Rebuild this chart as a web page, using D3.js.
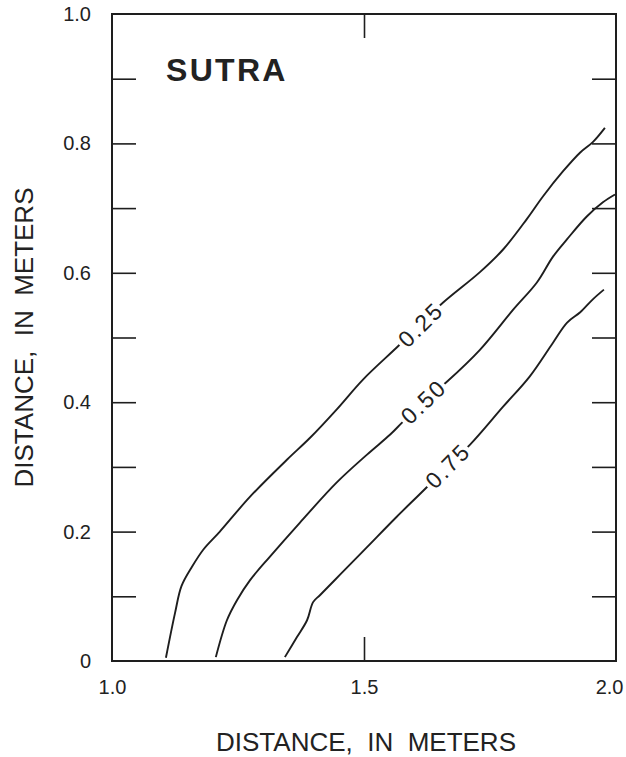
<!DOCTYPE html>
<html>
<head>
<meta charset="utf-8">
<script src="https://cdn.jsdelivr.net/npm/d3@7"></script>
<style>
  html, body { margin: 0; padding: 0; background: #fff; }
  svg { display: block; }
  text { font-family: "Liberation Sans", Arial, Helvetica, sans-serif; fill: #222; }
</style>
</head>
<body>
<svg id="chart" width="626" height="757"></svg>
<script>
// ---- data ----
const xDomain = [1.0, 2.0];
const yDomain = [0, 1.0];
const xTickLabels = [1.0, 1.5, 2.0];
const xTickMarks = [1.5];
const yTickLabels = [0, 0.2, 0.4, 0.6, 0.8, 1.0];
const yTickMarks = [0.1, 0.2, 0.3, 0.4, 0.5, 0.6, 0.7, 0.8, 0.9];

const contour025 = [
  [1.107, 0.005], [1.125, 0.074], [1.138, 0.116], [1.159, 0.146], [1.181, 0.172],
  [1.214, 0.200], [1.274, 0.254], [1.347, 0.311], [1.393, 0.345], [1.446, 0.389],
  [1.498, 0.435], [1.567, 0.486], [1.612, 0.520], [1.657, 0.554], [1.730, 0.601],
  [1.776, 0.636], [1.823, 0.683], [1.855, 0.718], [1.895, 0.757], [1.929, 0.786],
  [1.954, 0.802], [1.978, 0.824]
];
const contour050 = [
  [1.206, 0.006], [1.228, 0.063], [1.248, 0.094], [1.274, 0.125], [1.313, 0.161],
  [1.373, 0.214], [1.446, 0.276], [1.506, 0.319], [1.552, 0.350], [1.575, 0.368],
  [1.618, 0.401], [1.665, 0.432], [1.730, 0.481], [1.796, 0.543], [1.843, 0.585],
  [1.875, 0.625], [1.903, 0.652], [1.942, 0.687], [1.974, 0.709], [1.998, 0.721]
];
const contour075 = [
  [1.343, 0.006], [1.367, 0.037], [1.387, 0.063], [1.399, 0.091], [1.413, 0.102],
  [1.452, 0.133], [1.506, 0.176], [1.565, 0.223], [1.625, 0.269], [1.666, 0.302],
  [1.710, 0.334], [1.776, 0.393], [1.829, 0.440], [1.875, 0.492], [1.903, 0.523],
  [1.929, 0.539], [1.954, 0.559], [1.976, 0.574]
];
const contourLevels = ["0.25", "0.50", "0.75"];
const contourLabelAt = [[1.612, 0.520], [1.618, 0.401], [1.666, 0.302]];
const modelName = "SUTRA";
const axisTitle = "DISTANCE,  IN  METERS";

// ---- layout ----
const margin = { left: 112, top: 14 };
const plotW = 616 - margin.left;
const plotH = 661 - margin.top;

const svg = d3.select("#chart");
const g = svg.append("g").attr("transform", `translate(${margin.left},${margin.top})`);

const x = d3.scaleLinear().domain(xDomain).range([0, plotW]);
const y = d3.scaleLinear().domain(yDomain).range([plotH, 0]);

const ink = "#1e1e1e";
const FONT = '"Liberation Sans", Arial, Helvetica, sans-serif';

// tick marks (inward)
const tickLen = 24;
function styleTicks(s) {
  s.select(".domain").remove();
  s.selectAll("line").attr("stroke", ink).attr("stroke-width", 1.6);
}
g.append("g").call(d3.axisLeft(y).tickValues(yTickMarks).tickSize(-tickLen).tickFormat("")).call(styleTicks);
g.append("g").attr("transform", `translate(${plotW},0)`)
  .call(d3.axisRight(y).tickValues(yTickMarks).tickSize(-tickLen).tickFormat("")).call(styleTicks);
g.append("g").attr("transform", `translate(0,${plotH})`)
  .call(d3.axisBottom(x).tickValues(xTickMarks).tickSize(-tickLen).tickFormat("")).call(styleTicks);
g.append("g")
  .call(d3.axisTop(x).tickValues(xTickMarks).tickSize(-tickLen).tickFormat("")).call(styleTicks);

// tick labels
const yLab = g.append("g")
  .call(d3.axisLeft(y).tickValues(yTickLabels).tickSize(0).tickPadding(21)
    .tickFormat(d => d === 0 ? "0" : d3.format(".1f")(d)));
yLab.select(".domain").remove();
yLab.selectAll("text").attr("font-size", 20).attr("fill", ink).attr("font-family", FONT);

const xLab = g.append("g").attr("transform", `translate(0,${plotH})`)
  .call(d3.axisBottom(x).tickValues(xTickLabels).tickSize(0).tickPadding(19)
    .tickFormat(d3.format(".1f")));
xLab.select(".domain").remove();
xLab.selectAll("text").attr("font-size", 20).attr("fill", ink).attr("font-family", FONT)
  .attr("text-anchor", d => d === 2.0 ? "end" : "middle")
  .attr("dx", d => d === 2.0 ? 7 : 0);

// frame
g.append("rect").attr("x", 0).attr("y", 0).attr("width", plotW).attr("height", plotH)
  .attr("fill", "none").attr("stroke", ink).attr("stroke-width", 2);

// contours
const line = d3.line().x(d => x(d[0])).y(d => y(d[1])).curve(d3.curveCatmullRom.alpha(0.5));
[contour025, contour050, contour075].forEach(c => {
  g.append("path").datum(c).attr("d", line)
    .attr("fill", "none").attr("stroke", ink).attr("stroke-width", 1.9)
    .attr("stroke-linejoin", "round").attr("stroke-linecap", "butt");
});

// contour labels with white gap behind
const angles = [-44.4, -43.6, -45.5];
contourLevels.forEach((lv, i) => {
  const [lx, ly] = contourLabelAt[i];
  const lg = g.append("g")
    .attr("transform", `translate(${x(lx)},${y(ly)}) rotate(${angles[i]})`);
  const bg = lg.append("rect").attr("fill", "#fff");
  const t = lg.append("text")
    .attr("text-anchor", "middle")
    .attr("dy", "0.36em")
    .attr("font-size", 23)
    .attr("letter-spacing", 2)
    .attr("fill", ink)
    .text(lv);
  const bb = t.node().getBBox();
  bg.attr("x", bb.x - 3).attr("y", -7).attr("width", bb.width + 4).attr("height", 14);
});

// model name
g.append("text").attr("x", 166 - margin.left).attr("y", 81 - margin.top)
  .attr("font-size", 32).attr("font-weight", "bold").attr("letter-spacing", 2.3)
  .attr("fill", ink).text(modelName);

// axis titles
svg.append("text").attr("x", margin.left + plotW / 2 + 2).attr("y", 751)
  .attr("text-anchor", "middle").attr("font-size", 26).attr("fill", ink)
  .style("white-space", "pre").text(axisTitle);
svg.append("text").attr("transform", `translate(33,${margin.top + plotH / 2}) rotate(-90)`)
  .attr("text-anchor", "middle").attr("font-size", 26).attr("fill", ink)
  .style("white-space", "pre").text(axisTitle);
</script>
</body>
</html>
